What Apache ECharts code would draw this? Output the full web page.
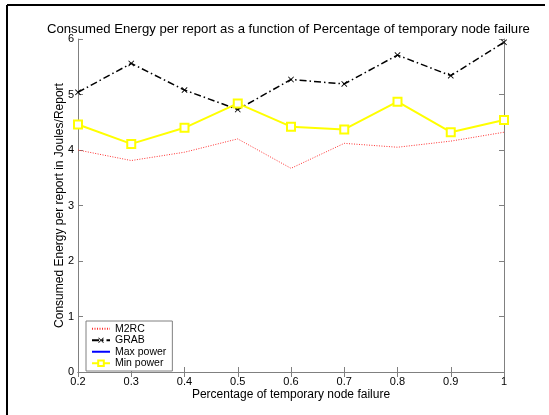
<!DOCTYPE html>
<html>
<head>
<meta charset="utf-8">
<script src="https://cdn.jsdelivr.net/npm/echarts@6/dist/echarts.min.js"></script>
<style>
  html, body { margin: 0; padding: 0; background: #fff; }
  #chart { width: 549px; height: 415px; }
</style>
</head>
<body>
<div id="chart"></div>
<script>
'use strict';
const failure = ['0.2', '0.3', '0.4', '0.5', '0.6', '0.7', '0.8', '0.9', '1'];
const m2rc = [4.00, 3.81, 3.96, 4.20, 3.67, 4.12, 4.05, 4.16, 4.32];
const grab = [5.04, 5.56, 5.08, 4.73, 5.27, 5.19, 5.71, 5.34, 5.94];
const maxPower = [];
const minPower = [4.46, 4.11, 4.40, 4.84, 4.42, 4.37, 4.87, 4.32, 4.54];

const font = 'Liberation Sans, Arial, sans-serif';
const axisGray = '#808080';
const crossPath = 'path://M0,1L1,0L5,4L9,0L10,1L6,5L10,9L9,10L5,6L1,10L0,9L4,5Z';

const chart = echarts.init(document.getElementById('chart'));

const baseX = {
    type: 'category',
    data: failure,
    boundaryGap: false,
    axisLine: { lineStyle: { color: axisGray, width: 1 } },
    axisTick: { inside: true, length: 5, lineStyle: { color: axisGray } },
    splitLine: { show: false }
};
const baseY = {
    type: 'value',
    min: 0,
    max: 6,
    interval: 1,
    axisLine: { show: true, lineStyle: { color: axisGray, width: 1 } },
    axisTick: { show: true, inside: true, length: 5, lineStyle: { color: axisGray } },
    splitLine: { show: false }
};

chart.setOption({
    animation: false,
    textStyle: { fontFamily: font },
    title: {
        text: 'Consumed Energy per report as a function of Percentage of temporary node failure',
        left: 42,
        top: 18,
        textStyle: { fontSize: 13.15, fontWeight: 'normal', color: '#000', fontFamily: font }
    },
    grid: { left: 78, right: 45, top: 39, bottom: 43 },
    legend: {
        orient: 'vertical',
        left: 86,
        top: 321,
        padding: [2, 6, 2, 5],
        itemWidth: 18,
        itemHeight: 7,
        itemGap: 0,
        backgroundColor: '#fff',
        borderColor: axisGray,
        borderWidth: 1,
        borderRadius: 0,
        textStyle: { fontSize: 10.5, lineHeight: 11.5, color: '#000', fontFamily: font },
        data: [
            { name: 'M2RC', itemStyle: { opacity: 0 } },
            { name: 'GRAB' },
            { name: 'Max power', itemStyle: { opacity: 0 } },
            { name: 'Min power' }
        ]
    },
    xAxis: [
        Object.assign({}, baseX, {
            position: 'bottom',
            name: 'Percentage of temporary node failure',
            nameLocation: 'middle',
            nameGap: 17,
            nameMoveOverlap: false,
            nameTextStyle: { fontSize: 12, color: '#000', fontFamily: font },
            axisLabel: { fontSize: 11, color: '#000', margin: 4 }
        }),
        Object.assign({}, baseX, { position: 'top', axisLabel: { show: false } })
    ],
    yAxis: [
        Object.assign({}, baseY, {
            position: 'left',
            name: 'Consumed Energy per report in Joules/Report',
            nameLocation: 'middle',
            nameGap: 12,
            nameMoveOverlap: false,
            nameTextStyle: { fontSize: 12, color: '#000', fontFamily: font },
            axisLabel: { fontSize: 11, color: '#000', margin: 4 }
        }),
        Object.assign({}, baseY, { position: 'right', axisLabel: { show: false } })
    ],
    series: [
        {
            name: 'M2RC',
            type: 'line',
            data: m2rc,
            symbol: 'none',
            color: '#ff3030',
            lineStyle: { color: '#ff3030', width: 1, type: [1, 1.5] },
            z: 2
        },
        {
            name: 'GRAB',
            type: 'line',
            data: grab,
            symbol: crossPath,
            symbolSize: 6,
            color: '#000',
            itemStyle: { color: '#000' },
            lineStyle: { color: '#000', width: 1.5, type: [7, 3, 1.5, 3] },
            z: 3
        },
        {
            name: 'Max power',
            type: 'line',
            data: maxPower,
            symbol: 'none',
            color: '#0000ff',
            lineStyle: { color: '#0000ff', width: 2 }
        },
        {
            name: 'Min power',
            type: 'line',
            data: minPower,
            symbol: 'emptyRect',
            symbolSize: 8,
            color: '#ffff00',
            itemStyle: { color: '#ffff00', borderColor: '#ffff00', borderWidth: 2 },
            lineStyle: { color: '#ffff00', width: 2 },
            z: 4
        }
    ],
    graphic: [
        { type: 'line', shape: { x1: 7, y1: 5, x2: 545, y2: 5 }, style: { stroke: '#000', lineWidth: 2 } },
        { type: 'line', shape: { x1: 7, y1: 5, x2: 7, y2: 415 }, style: { stroke: '#000', lineWidth: 2 } }
    ]
});
</script>
</body>
</html>
